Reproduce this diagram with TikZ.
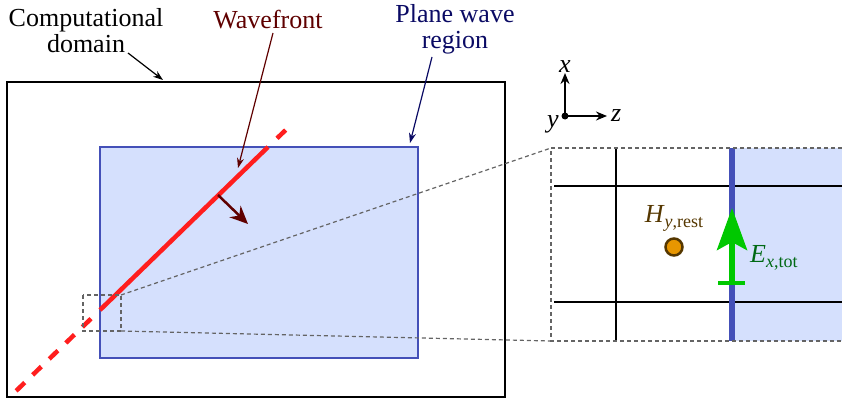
\documentclass[tikz,border=0pt]{standalone}
\usepackage{fontspec}
\setmainfont{Liberation Serif}
\usetikzlibrary{arrows.meta, positioning, calc}
\definecolor{PwFill}{RGB}{213, 224, 253}
\definecolor{PwBlue}{RGB}{68, 80, 184}
\definecolor{PwNavy}{RGB}{10, 10, 100}
\definecolor{WfRed}{RGB}{255, 30, 30}
\definecolor{WfDark}{RGB}{95, 0, 0}
\definecolor{EGreen}{RGB}{0, 200, 0}
\definecolor{ETxt}{RGB}{0, 105, 20}
\definecolor{HTxt}{RGB}{85, 55, 0}
\definecolor{HOrange}{RGB}{232, 150, 0}
\definecolor{ZoomGray}{RGB}{100, 100, 100}
\newcommand{\subtxt}[1]{\raisebox{-0.4ex}{\fontsize{18}{18}\selectfont #1}}

\begin{document}
\begin{tikzpicture}[x=1pt, y=-1pt, font=\fontsize{26}{26}\selectfont,
    callout/.style={line width=1.2pt, -{Stealth[length=10pt, width=7pt]}},
    zoomline/.style={draw=ZoomGray, line width=1.2pt, dash pattern=on 4pt off 3pt},
    gridline/.style={line width=1.6pt},
    axisarrow/.style={line width=1.8pt, -{Stealth[length=11pt, width=9pt]}}]
  \useasboundingbox (0,0) rectangle (842,404);

  % domain and plane wave region
  \draw[line width=2pt] (7,82) rectangle (505,397);
  \draw[draw=PwBlue, fill=PwFill, line width=2pt] (100,147) rectangle (418,358);

  % wavefront
  \coordinate (wfa) at (100,310);
  \coordinate (wfb) at (268,147);
  \draw[WfRed, line width=4.5pt] (wfa) -- (wfb);
  \draw[WfRed, line width=4.5pt, dash pattern=on 12pt off 11pt] ($(wfa)+(-9,8.7)$) -- (16,391);
  \draw[WfRed, line width=4.5pt, dash pattern=on 12pt off 11pt] ($(wfb)+(9,-8.7)$) -- (292,124);
  \draw[WfDark, line width=2.5pt, -{Stealth[length=18pt, width=16pt]}] (218,195) -- (248,224);

  % zoom window on the left
  \coordinate (zl1) at (83,295);
  \coordinate (zl2) at (121,331);
  \draw[zoomline] (zl1) rectangle (zl2);
  \coordinate (zr1) at (551,148);
  \coordinate (zr2) at (551,341);
  \draw[zoomline] (zl2 |- zl1) -- (zr1);
  \draw[zoomline] (zl2) -- (zr2);

  % magnified cell
  \fill[PwFill] (732,148) rectangle (842,341);
  \draw[gridline] (554,186) -- (842,186);
  \draw[gridline] (554,302) -- (842,302);
  \draw[gridline] (616,148) -- (616,341);
  \draw[PwBlue, line width=6pt] (732,148) -- (732,341);
  \draw[zoomline] (842,148) -- (zr1) -- (zr2) -- (842,341);

  % fields
  \node[circle, draw=HTxt, fill=HOrange, line width=2.5pt, minimum size=17pt, inner sep=0pt] (hdot) at (674,247) {};
  \node[text=HTxt, inner sep=0pt, above=6pt of hdot] (hlab) {\textit{H}\subtxt{\textit{y},rest}};
  \coordinate (ebot) at (732,283);
  \coordinate (etop) at (732,208);
  \draw[EGreen, line width=5.5pt, -{Stealth[length=42pt, width=30pt, inset=8pt]}] (ebot) -- (etop);
  \draw[EGreen, line width=4pt] ($(ebot)+(-14,0)$) -- ($(ebot)+(13,0)$);
  \node[text=ETxt, inner sep=0pt, anchor=west] (elab) at (750,258) {\textit{E}\subtxt{\textit{x},tot}};

  % axes
  \coordinate (orig) at (565,116);
  \fill (orig) circle (3.5pt);
  \draw[axisarrow] (orig) -- (565,73) node[above=-4pt] (xlab) {\textit{x}};
  \draw[axisarrow] (orig) -- (607,116) node[right=0pt] (zlab) {\textit{z}};
  \node[inner sep=0pt] (ylab) at (553,124) {\textit{y}};

  % labels
  \node[align=center, inner sep=0pt] (domlab) at (86,31) {Computational\\domain};
  \coordinate (domtip) at (163,80);
  \draw[callout] (128,53) -- (domtip);
  \node[text=WfDark, inner sep=0pt] (wflab) at (268,20) {Wavefront};
  \coordinate (wftip) at (238,168);
  \draw[callout, WfDark] (273,33) -- (wftip);
  \node[text=PwNavy, align=center, inner sep=0pt] (pwlab) at (455,29) {Plane wave\\region};
  \coordinate (pwtip) at (410,143);
  \draw[callout, PwNavy] (432,57) -- (pwtip);
\end{tikzpicture}
\end{document}
